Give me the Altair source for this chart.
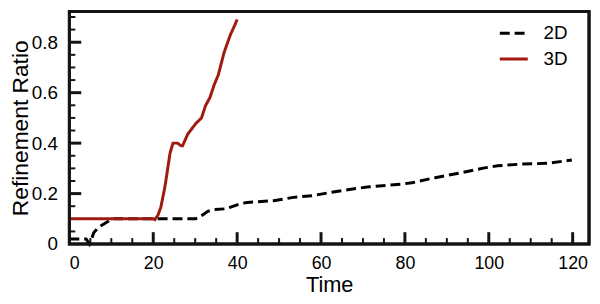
import altair as alt
import pandas as pd

# ---- data ----
t_2d = [0, 4.0, 4.8, 5.3, 5.8, 7.0, 8.9, 10, 20, 30, 30.6, 32.2, 33, 34.6, 37.6, 38.3,
        40.7, 42.4, 48.7, 53.4, 58.1, 62, 68.3, 71.5, 79.4, 81.7, 87.2, 93.5, 99,
        102.1, 107.7, 113.9, 119.8]
v_2d = [0.02, 0.02, 0.0, 0.02, 0.045, 0.067, 0.086, 0.1, 0.1, 0.1, 0.102, 0.12, 0.13,
        0.137, 0.14, 0.145, 0.16, 0.165, 0.172, 0.185, 0.192, 0.204, 0.22, 0.227,
        0.238, 0.243, 0.263, 0.283, 0.302, 0.31, 0.317, 0.32, 0.333]

t_3d = [0, 20, 20.4, 21.1, 21.8, 22.7, 23, 24, 24.7, 25.8, 26.6, 27, 28.2, 30.1, 31.5,
        32.5, 33.5, 34.5, 35.5, 36.9, 38.4, 39.5, 40]
v_3d = [0.1, 0.1, 0.097, 0.114, 0.145, 0.22, 0.25, 0.36, 0.40, 0.40, 0.39, 0.39, 0.435,
        0.477, 0.5, 0.55, 0.58, 0.63, 0.67, 0.76, 0.83, 0.87, 0.89]

series = ["2D", "3D"]
colors = ["#000000", "#a11a12"]
dashes = [[10, 5], [1, 0]]

x_major = [0, 20, 40, 60, 80, 100, 120]
x_minor = [5, 10, 15, 25, 30, 35, 45, 50, 55, 65, 70, 75, 85, 90, 95, 105, 110, 115]
y_major = [0, 0.2, 0.4, 0.6, 0.8]
y_minor = [0.05, 0.1, 0.15, 0.25, 0.3, 0.35, 0.45, 0.5, 0.55, 0.65, 0.7, 0.75, 0.85, 0.9]
x_domain = [0, 123.9]
y_domain = [0, 0.922]

W, H = 525, 235
FONT = "Liberation Sans"
INK = "#141414"

df = pd.concat([
    pd.DataFrame({"Time": t_2d, "Ratio": v_2d, "Case": series[0]}),
    pd.DataFrame({"Time": t_3d, "Ratio": v_3d, "Case": series[1]}),
], ignore_index=True)

xs = alt.Scale(domain=x_domain, nice=False)
ys = alt.Scale(domain=y_domain, nice=False)

leg = alt.Legend(orient="none", legendX=433, legendY=6, title=None,
                 symbolType="stroke", symbolSize=800, symbolStrokeWidth=3,
                 labelOffset=14, rowPadding=0, padding=0)

lines = alt.Chart(df).mark_line(strokeWidth=3).encode(
    x=alt.X("Time:Q", scale=xs, axis=alt.Axis(
        values=x_major, ticks=False, domain=False, grid=False,
        titleBaseline="alphabetic", titleY=48)),
    y=alt.Y("Ratio:Q", scale=ys, axis=alt.Axis(
        values=y_major, ticks=False, domain=False, grid=False,
        labelExpr="datum.value == 0 ? '0' : format(datum.value, '.1f')",
        title="Refinement Ratio", titleBaseline="alphabetic", titleX=-42)),
    color=alt.Color("Case:N", scale=alt.Scale(domain=series, range=colors), legend=leg),
    strokeDash=alt.StrokeDash("Case:N", scale=alt.Scale(domain=series, range=dashes),
                              legend=leg),
)


def x_ticks(vals, size, width):
    return alt.Chart(pd.DataFrame({"Time": vals})).mark_rule(
        color=INK, strokeWidth=width).encode(
        x=alt.X("Time:Q", scale=xs), y=alt.value(H), y2=alt.value(H - size))


def y_ticks(vals, size, width):
    return alt.Chart(pd.DataFrame({"Ratio": vals})).mark_rule(
        color=INK, strokeWidth=width).encode(
        y=alt.Y("Ratio:Q", scale=ys), x=alt.value(0), x2=alt.value(size))


frame = alt.Chart(pd.DataFrame({"Time": [x_domain[0]]})).mark_rect(
    fill="transparent", stroke=INK, strokeWidth=3).encode(
    x=alt.value(0), x2=alt.value(W), y=alt.value(0), y2=alt.value(H))

chart = alt.layer(
    x_ticks(x_major[1:], 12, 3),
    x_ticks(x_minor, 6, 2),
    y_ticks(y_major[1:], 12, 3),
    y_ticks(y_minor, 6, 2),
    lines,
    frame,
).properties(
    width=W, height=H,
    padding={"left": 62, "top": 2, "right": 3, "bottom": 51},
    autosize=alt.AutoSizeParams(type="none"),
).configure_view(
    stroke=INK, strokeWidth=3
).configure_axisX(
    labelFontSize=18, labelPadding=11, labelFont=FONT, labelColor="#000000",
    titleFontSize=22, titleFont=FONT, titleFontWeight="normal", titleColor="#000000"
).configure_axisY(
    labelFontSize=19, labelPadding=12, labelFont=FONT, labelColor="#000000",
    titleFontSize=23, titleFont=FONT, titleFontWeight="normal", titleColor="#000000"
).configure_legend(
    labelFontSize=19, labelFont=FONT, labelColor="#000000"
)

chart.save("out.html", embed_options={"renderer": "svg", "actions": False})
